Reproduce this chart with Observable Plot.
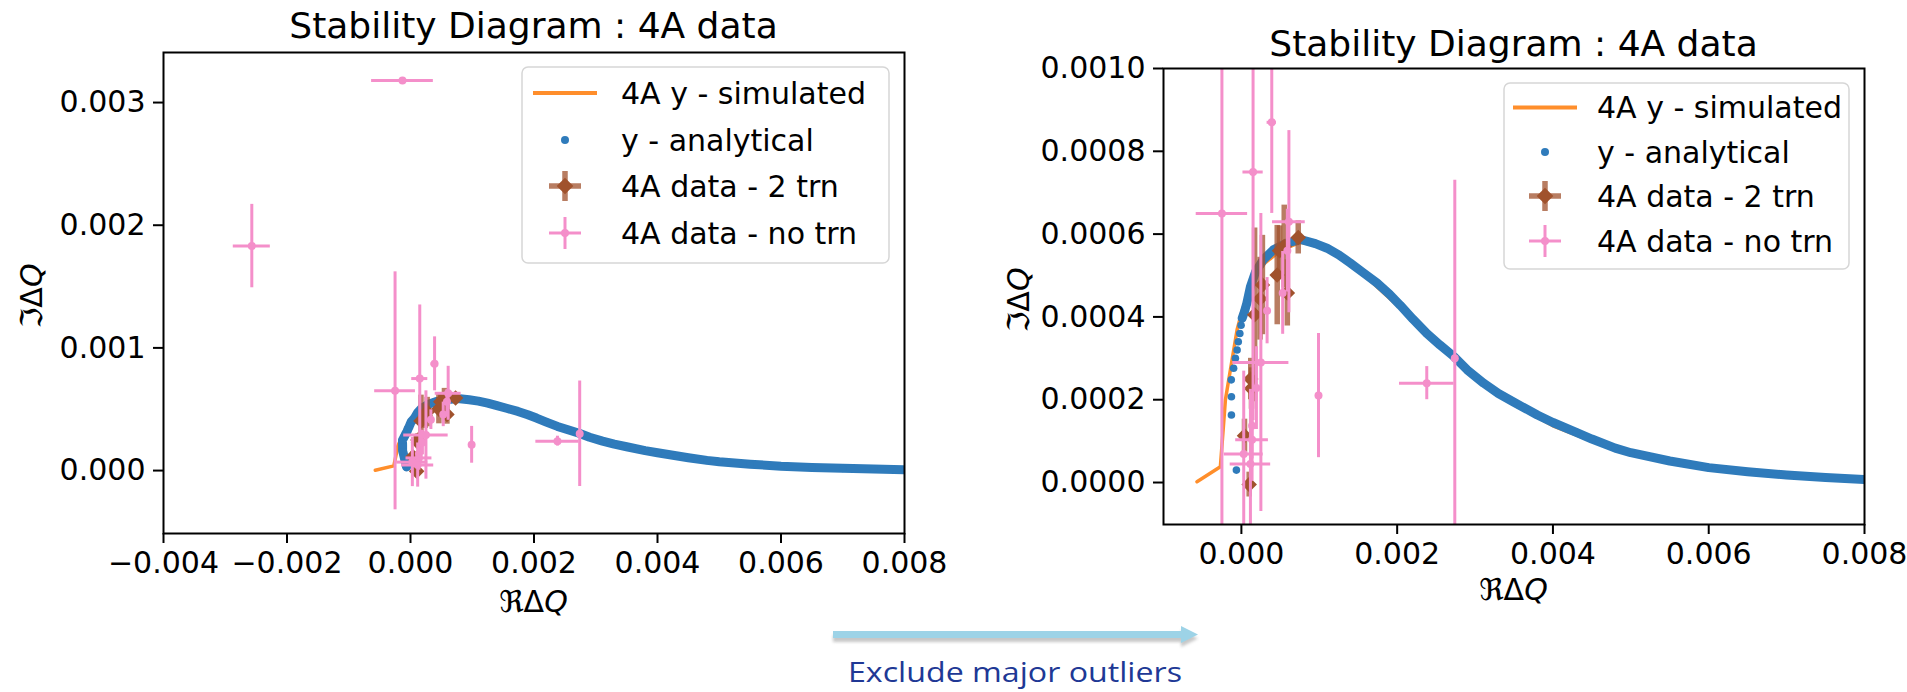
<!DOCTYPE html>
<html><head><meta charset="utf-8">
<script src="https://cdn.jsdelivr.net/npm/d3@7"></script>
<script src="https://cdn.jsdelivr.net/npm/@observablehq/plot@0.6"></script>
<style>
html,body{margin:0;padding:0;background:#fff;}
#page{position:relative;width:1907px;height:692px;overflow:hidden;background:#fff;}
.panel{position:absolute;top:0;}
#overlay{position:absolute;left:0;top:0;pointer-events:none;}
</style></head>
<body>
<div id="page">
  <div id="p1" class="panel" style="left:0px"></div>
  <div id="p2" class="panel" style="left:1000px"></div>
  <svg id="overlay" width="1907" height="692"></svg>
</div>
<script>
// ---------- data ----------
const simX = [-0.00057, -0.00027, -0.000205, -0.00012, -0.000055, 0.00001, 0.0001, 0.0002, 0.0003, 0.0005, 0.00075, 0.001, 0.0013, 0.0016, 0.002, 0.0025, 0.003, 0.0035, 0.004, 0.0045, 0.005, 0.0055, 0.006, 0.007, 0.008];
const simY = [0.000002, 0.000038, 0.0002, 0.000296, 0.000369, 0.000415, 0.000465, 0.000505, 0.00053, 0.00056, 0.00058, 0.000572, 0.00054, 0.000497, 0.000428, 0.00034, 0.000256, 0.000188, 0.000137, 0.0001, 0.00007, 0.00005, 0.000034, 0.000016, 0.000006];

const anaX = [-0.000064, -0.000128, -0.000128, -0.00013, -0.0001, -0.000077, -0.000055, -0.00004, -0.00002, -0.000004, 0.00001, 0.00004, 0.00007, 0.000116, 0.00018, 0.00028, 0.00041, 0.00058, 0.00076, 0.00095, 0.0011, 0.00125, 0.0014, 0.00157, 0.00174, 0.0019, 0.00204, 0.0022, 0.00238, 0.00255, 0.00273, 0.0029, 0.00311, 0.0033, 0.0035, 0.0038, 0.004, 0.0043, 0.0045, 0.0048, 0.005, 0.0055, 0.006, 0.0065, 0.007, 0.0075, 0.008];
const anaY = [0.00003, 0.000163, 0.000207, 0.000248, 0.000276, 0.0003, 0.00032, 0.00034, 0.00036, 0.00038, 0.000397, 0.000413, 0.000433, 0.000473, 0.000508, 0.000538, 0.000562, 0.000578, 0.000587, 0.000577, 0.000566, 0.00055, 0.00053, 0.000506, 0.000482, 0.000455, 0.000428, 0.000395, 0.00036, 0.000332, 0.000304, 0.000272, 0.00024, 0.000215, 0.000194, 0.000163, 0.000145, 0.000121, 0.000105, 0.000083, 0.000072, 0.000052, 0.000036, 0.000026, 0.000018, 0.000012, 0.000007];

const trn2X    = [0.0001, 0.00004, 0.00013, 0.00012, 0.00017, 0.00024, 0.00027, 0.00046, 0.00049, 0.00059, 0.00055, 0.00073];
const trn2Y    = [-0.000005, 0.000113, 0.000227, 0.00025, 0.000405, 0.000444, 0.000477, 0.000501, 0.00056, 0.000458, 0.00057, 0.000592];
const trn2XErr = [0.00001, 0.00001, 0.00002, 0.00002, 0.00003, 0.00003, 0.00003, 0.00004, 0.00005, 0.00002, 0.00005, 0.00003];
const trn2YErr = [0.00003, 0.00004, 0.00005, 0.00005, 0.00021, 0.0001, 0.00012, 0.00012, 0.00006, 0.00008, 0.0001, 0.00004];

const noTrnX    = [-0.00013, -0.00257, -0.00025, 0.00015, 0.00039, 0.00061, 0.00025, 0.00099, 0.00238, 0.00274, 0.000137, 0.00003, 0.000116, 0.000193, 0.00033, 0.00059, 0.00053, 0.000137];
const noTrnY    = [0.00318, 0.00183, 0.00065, 0.00075, 0.00087, 0.00063, 0.00029, 0.00021, 0.00024, 0.0003, 0.000103, 0.000069, 0.000045, 0.000228, 0.000415, 0.00056, 0.000458, 0.000137];
const noTrnXErr = [0.0005, 0.0003, 0.00033, 0.00013, 0.00006, 0.00021, 0.00036, 0.00002, 0.00035, 0.00001, 0.00021, 0.00025, 0.00026, 0.00002, 0.00002, 0.00002, 0.00002, 0.00002];
const noTrnYErr = [0.00002, 0.00034, 0.00097, 0.0006, 0.00022, 0.00022, 0.00036, 0.00015, 0.00004, 0.00043, 0.0001, 0.0002, 0.00018, 0.0001, 0.00008, 0.0001, 0.0001, 0.00008];
const majorOutliers = [0, 1];   // indices of no-trn points dropped in the right panel

const leftXTicks  = [-0.004, -0.002, 0, 0.002, 0.004, 0.006, 0.008];
const leftYTicks  = [0, 0.001, 0.002, 0.003];
const rightXTicks = [0, 0.002, 0.004, 0.006, 0.008];
const rightYTicks = [0, 0.0002, 0.0004, 0.0006, 0.0008, 0.001];

const titleText = "Stability Diagram : 4A data";
const legendLabels = ["4A y - simulated", "y - analytical", "4A data - 2 trn", "4A data - no trn"];
const captionText = "Exclude major outliers";

// ---------- styles ----------
const ORANGE = "#ff8e2b", BLUE = "#2f7bbb", BROWN = "#a0522d", PINK = "#f48fca";
const FONT = "DejaVu Sans";

function panel(cfg) {
  const sim = simX.map((x, i) => ({x, y: simY[i]}));
  const ana = anaX.map((x, i) => ({x, y: anaY[i]}));
  const anaDense = ana.slice(cfg.denseFrom);
  const trn2 = trn2X.map((x, i) => ({x, y: trn2Y[i], ex: trn2XErr[i], ey: trn2YErr[i]}));
  const noTrn = noTrnX.map((x, i) => ({i, x, y: noTrnY[i], ex: noTrnXErr[i], ey: noTrnYErr[i]}))
    .filter(d => cfg.keepOutliers || !majorOutliers.includes(d.i));
  return Plot.plot({
    width: cfg.width, height: cfg.height,
    marginLeft: cfg.ml, marginRight: cfg.mr, marginTop: cfg.mt, marginBottom: cfg.mb,
    x: {domain: cfg.xDomain},
    y: {domain: cfg.yDomain},
    style: {fontFamily: FONT, fontSize: "30px", color: "#000", background: "transparent"},
    marks: [
      Plot.line(sim, {x: "x", y: "y", stroke: ORANGE, strokeWidth: 3.5, clip: true}),
      Plot.line(anaDense, {x: "x", y: "y", stroke: BLUE, strokeWidth: 9, strokeLinecap: "round", strokeLinejoin: "round", clip: true}),
      Plot.dot(ana, {x: "x", y: "y", r: 3.8, fill: BLUE, clip: true}),
      Plot.ruleX(trn2, {x: "x", y1: d => d.y - d.ey, y2: d => d.y + d.ey, stroke: BROWN, strokeOpacity: 0.75, strokeWidth: 5.5, clip: true}),
      Plot.ruleY(trn2, {y: "y", x1: d => d.x - d.ex, x2: d => d.x + d.ex, stroke: BROWN, strokeOpacity: 0.75, strokeWidth: 5.5, clip: true}),
      Plot.dot(trn2, {x: "x", y: "y", symbol: "diamond2", r: 7, fill: BROWN, clip: true}),
      Plot.ruleX(noTrn, {x: "x", y1: d => d.y - d.ey, y2: d => d.y + d.ey, stroke: PINK, strokeWidth: 3, clip: true}),
      Plot.ruleY(noTrn, {y: "y", x1: d => d.x - d.ex, x2: d => d.x + d.ex, stroke: PINK, strokeWidth: 3, clip: true}),
      Plot.dot(noTrn, {x: "x", y: "y", r: 4, fill: PINK, clip: true}),
      Plot.axisX({ticks: cfg.xTicks, tickFormat: d3.format(".3f"), tickSize: 10, tickPadding: 8, strokeWidth: 2, label: null, fontSize: 30}),
      Plot.axisY({ticks: cfg.yTicks, tickFormat: d3.format(cfg.yFmt), tickSize: 10, tickPadding: 8, strokeWidth: 2, label: null, fontSize: 30}),
      Plot.frame({stroke: "#000", strokeWidth: 2})
    ]
  });
}

document.getElementById("p1").appendChild(panel({
  width: 950, height: 640, ml: 163, mr: 46, mt: 52, mb: 107,
  xDomain: [-0.004, 0.008], yDomain: [-0.000513, 0.003408],
  xTicks: leftXTicks, yTicks: leftYTicks, yFmt: ".3f",
  denseFrom: 0, keepOutliers: true
}));
document.getElementById("p2").appendChild(panel({
  width: 907, height: 640, ml: 163, mr: 43, mt: 68, mb: 116,
  xDomain: [-0.001, 0.008], yDomain: [-0.0001014, 0.001],
  xTicks: rightXTicks, yTicks: rightYTicks, yFmt: ".4f",
  denseFrom: 10, keepOutliers: false
}));

// ---------- overlay: titles, axis labels, legends, arrow, caption ----------
const ov = d3.select("#overlay");

function title(cx, baseline) {
  ov.append("text").attr("x", cx).attr("y", baseline).attr("text-anchor", "middle")
    .style("font-family", FONT).style("font-size", "36px").attr("fill", "#000").text(titleText);
}
function mathLabel(x, y, first, rotate) {
  const t = ov.append("text").attr("x", x).attr("y", y).attr("text-anchor", "middle")
    .style("font-family", FONT).style("font-size", "30px").attr("fill", "#000");
  if (rotate) t.attr("transform", `rotate(-90 ${x} ${y})`);
  t.append("tspan").text(first + "Δ");
  t.append("tspan").style("font-style", "italic").text("Q");
}
function legend(box, rows, swX, txtX) {
  const g = ov.append("g");
  g.append("rect").attr("x", box[0]).attr("y", box[1]).attr("width", box[2]).attr("height", box[3])
    .attr("rx", 6).attr("fill", "#fff").attr("fill-opacity", 0.85).attr("stroke", "#d6d6d6").attr("stroke-width", 1.5);
  g.append("line").attr("x1", swX - 32).attr("x2", swX + 32).attr("y1", rows[0]).attr("y2", rows[0])
    .attr("stroke", ORANGE).attr("stroke-width", 4);
  g.append("circle").attr("cx", swX).attr("cy", rows[1]).attr("r", 4).attr("fill", BLUE);
  g.append("line").attr("x1", swX).attr("x2", swX).attr("y1", rows[2] - 15).attr("y2", rows[2] + 15)
    .attr("stroke", BROWN).attr("stroke-opacity", 0.75).attr("stroke-width", 5.5);
  g.append("line").attr("x1", swX - 16).attr("x2", swX + 16).attr("y1", rows[2]).attr("y2", rows[2])
    .attr("stroke", BROWN).attr("stroke-opacity", 0.75).attr("stroke-width", 5.5);
  g.append("path").attr("d", d3.symbol(d3.symbolDiamond2, Math.PI * 56)()).attr("transform", `translate(${swX},${rows[2]})`).attr("fill", BROWN);
  g.append("line").attr("x1", swX).attr("x2", swX).attr("y1", rows[3] - 16).attr("y2", rows[3] + 16)
    .attr("stroke", PINK).attr("stroke-width", 3);
  g.append("line").attr("x1", swX - 16).attr("x2", swX + 16).attr("y1", rows[3]).attr("y2", rows[3])
    .attr("stroke", PINK).attr("stroke-width", 3);
  g.append("circle").attr("cx", swX).attr("cy", rows[3]).attr("r", 4).attr("fill", PINK);
  legendLabels.forEach((s, i) => {
    g.append("text").attr("x", txtX).attr("y", rows[i] + 10.5)
      .style("font-family", FONT).style("font-size", "30px").attr("fill", "#000").text(s);
  });
}

title(533.5, 38);
title(1513.5, 56);
mathLabel(533.5, 612, "ℜ", false);
mathLabel(1513.5, 600, "ℜ", false);
mathLabel(42, 296, "ℑ", true);
mathLabel(1029, 300, "ℑ", true);
legend([522, 67, 367, 196], [93, 140, 186, 233], 565, 621);
legend([1504, 83, 345, 186], [107.5, 152, 196, 241], 1545, 1597);

// arrow with soft shadow
const defs = ov.append("defs");
defs.append("filter").attr("id", "blur").append("feGaussianBlur").attr("stdDeviation", 1.6);
const arrowPath = "M833,631 L1181,631 L1181,626 L1198,634.5 L1181,643 L1181,638 L833,638 Z";
ov.append("path").attr("d", arrowPath).attr("fill", "#9a9a9a").attr("opacity", 0.55)
  .attr("transform", "translate(0,4)").attr("filter", "url(#blur)");
ov.append("path").attr("d", arrowPath).attr("fill", "#9dd3e7");
ov.append("text").attr("x", 848).attr("y", 682).attr("textLength", 334).attr("lengthAdjust", "spacingAndGlyphs")
  .style("font-family", "'Open Sans', 'Liberation Sans Narrow', sans-serif").style("font-size", "28px")
  .attr("fill", "#203895").text(captionText);
</script>
</body></html>
